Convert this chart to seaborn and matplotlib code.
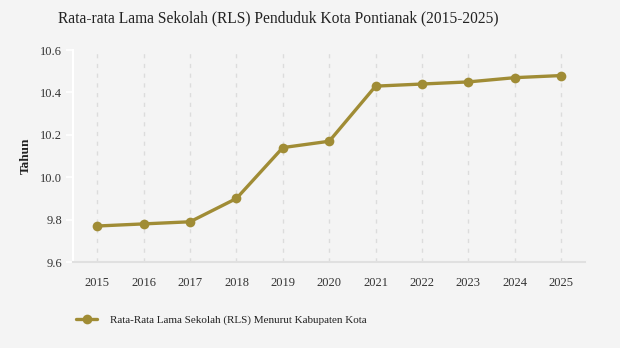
import matplotlib
matplotlib.use("Agg")
import matplotlib.pyplot as plt
import seaborn as sns
import pandas as pd

# Rata-rata Lama Sekolah (RLS), Kota Pontianak
years = [2015, 2016, 2017, 2018, 2019, 2020, 2021, 2022, 2023, 2024, 2025]
rls = [9.77, 9.78, 9.79, 9.90, 10.14, 10.17, 10.43, 10.44, 10.45, 10.47, 10.48]
yticks = [9.6, 9.8, 10.0, 10.2, 10.4, 10.6]
series_name = "Rata-Rata Lama Sekolah (RLS) Menurut Kabupaten Kota"
title = "Rata-rata Lama Sekolah (RLS) Penduduk Kota Pontianak (2015-2025)"

df = pd.DataFrame({"Tahun": years, "RLS": rls})

bg = "#f4f4f4"
color = "#a08c35"

sns.set_theme(style="white")
plt.rcParams["font.family"] = ["Liberation Serif", "DejaVu Serif"]

fig = plt.figure(figsize=(6.2, 3.48), dpi=100, facecolor=bg)
ax = fig.add_axes([0.118, 0.247, 0.826, 0.609], facecolor=bg)

sns.lineplot(data=df, x="Tahun", y="RLS", ax=ax, color=color, linewidth=2.4,
             marker="o", markersize=7, markeredgewidth=0, label=series_name)

ax.set_xlim(2014.48, 2025.52)
ax.set_ylim(9.6, 10.6)
ax.set_xticks(years)
ax.set_xticklabels([str(y) for y in years])
ax.set_yticks(yticks)
ax.set_yticklabels([f"{v:.1f}" for v in yticks])

for y in years:
    ax.axvline(y, color="#dcdcdc", linestyle=(0, (3, 4)), linewidth=1, zorder=0)

for s in ["top", "right"]:
    ax.spines[s].set_visible(False)
ax.spines["left"].set_color("white")
ax.spines["left"].set_linewidth(1.5)
ax.spines["bottom"].set_color("#e0e0e0")
ax.spines["bottom"].set_linewidth(1.5)

ax.tick_params(axis="y", which="both", left=True, length=5, width=1.2, color="white",
               labelsize=9, labelcolor="#333333", pad=3)
ax.tick_params(axis="x", which="both", bottom=False, labelsize=9, labelcolor="#333333", pad=5)

ax.set_xlabel("")
ax.set_ylabel("Tahun", fontsize=9.5, fontweight="bold", color="#222222", labelpad=6)

fig.text(0.094, 0.947, title, fontsize=11.2, color="#222222", va="center",
         family=["Liberation Serif"])

leg = ax.legend(loc="center left", bbox_to_anchor=(-0.014, -0.275), frameon=False,
                fontsize=8, handlelength=1.9, handletextpad=1.2)
for t in leg.get_texts():
    t.set_color("#222222")

fig.savefig("out.png", dpi=100, facecolor=bg)
